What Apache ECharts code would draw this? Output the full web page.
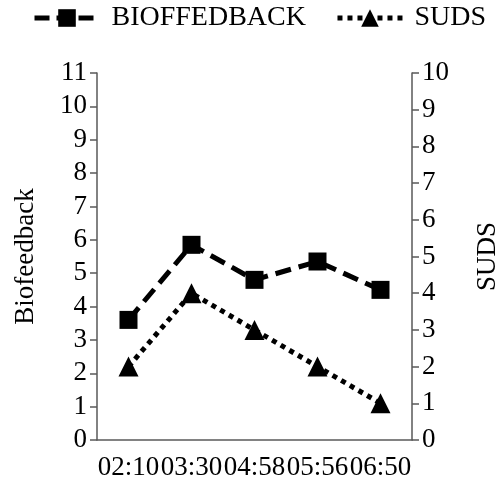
<!DOCTYPE html>
<html>
<head>
<meta charset="utf-8">
<script src="https://cdn.jsdelivr.net/npm/echarts@6/dist/echarts.min.js"></script>
<style>
  html, body { margin: 0; padding: 0; background: #fff; }
  #chart { width: 497px; height: 489px; }
</style>
</head>
<body>
<div id="chart"></div>
<script>
const times = ['02:10', '03:30', '04:58', '05:56', '06:50']
const biofeedback = [3.6, 5.85, 4.8, 5.35, 4.5]
const suds = [2, 4, 3, 2, 1]

const font = '"Liberation Serif", "Times New Roman", serif'
const axisColor = '#595959'

const chart = echarts.init(document.getElementById('chart'))

chart.setOption({
  animation: false,
  textStyle: { fontFamily: font, color: '#000' },
  legend: {
    top: 4,
    left: 32,
    width: 470,
    padding: 0,
    itemWidth: 65,
    itemHeight: 22,
    itemGap: 29,
    formatter: ' {name}',
    textStyle: { fontFamily: font, fontSize: 28, color: '#000' },
    data: [
      { name: 'BIOFFEDBACK', lineStyle: { width: 5, type: [15, 7] } },
      { name: 'SUDS', lineStyle: { width: 5, type: [5, 5] } }
    ]
  },
  grid: {
    left: 97,
    right: 85,
    top: 73,
    bottom: 49,
    containLabel: false,
    outerBoundsMode: 'none'
  },
  xAxis: {
    type: 'category',
    data: times,
    boundaryGap: true,
    axisLine: { lineStyle: { color: axisColor, width: 1.5 } },
    axisTick: { show: false },
    axisLabel: {
      interval: 0,
      fontFamily: font,
      fontSize: 27,
      color: '#000',
      margin: 14,
      hideOverlap: false
    }
  },
  yAxis: [
    {
      type: 'value',
      name: 'Biofeedback',
      nameLocation: 'middle',
      nameRotate: 90,
      nameGap: 58,
      nameTextStyle: { fontFamily: font, fontSize: 27, color: '#000' },
      min: 0,
      max: 11,
      interval: 1,
      splitLine: { show: false },
      axisLine: { show: true, lineStyle: { color: axisColor, width: 1.5 } },
      axisTick: { show: true, length: 7, lineStyle: { color: axisColor, width: 1.5 } },
      axisLabel: { fontFamily: font, fontSize: 27, color: '#000', margin: 10 }
    },
    {
      type: 'value',
      name: 'SUDS',
      nameLocation: 'middle',
      nameRotate: 90,
      nameGap: 62,
      nameTextStyle: { fontFamily: font, fontSize: 27, color: '#000' },
      position: 'right',
      min: 0,
      max: 10,
      interval: 1,
      splitLine: { show: false },
      axisLine: { show: true, lineStyle: { color: axisColor, width: 1.5 } },
      axisTick: { show: true, length: 7, lineStyle: { color: axisColor, width: 1.5 } },
      axisLabel: { fontFamily: font, fontSize: 27, color: '#000', margin: 10 }
    }
  ],
  series: [
    {
      name: 'BIOFFEDBACK',
      type: 'line',
      yAxisIndex: 0,
      data: biofeedback,
      symbol: 'rect',
      symbolSize: 18,
      itemStyle: { color: '#000' },
      lineStyle: { color: '#000', width: 5, type: [16, 8] }
    },
    {
      name: 'SUDS',
      type: 'line',
      yAxisIndex: 1,
      data: suds,
      symbol: 'triangle',
      symbolSize: 20,
      itemStyle: { color: '#000' },
      lineStyle: { color: '#000', width: 5, type: [5, 5] }
    }
  ]
})
</script>
</body>
</html>
